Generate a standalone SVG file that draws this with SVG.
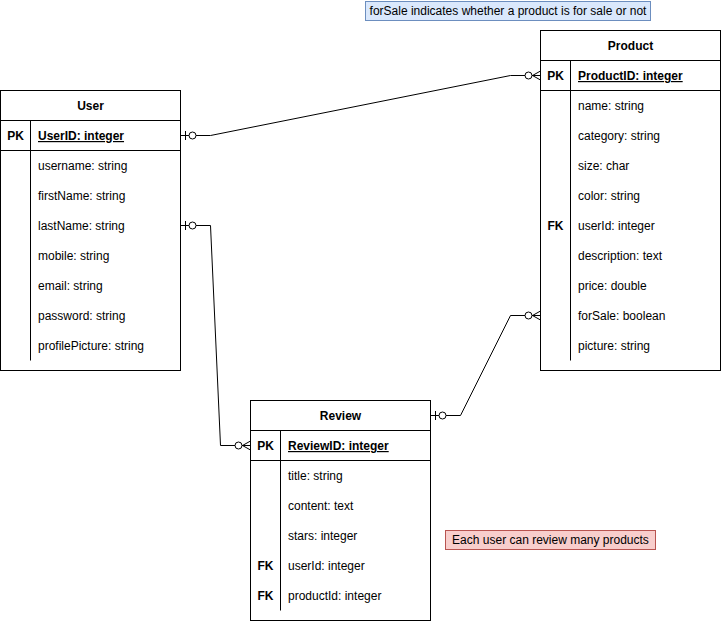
<svg xmlns="http://www.w3.org/2000/svg" width="721" height="622" viewBox="0 0 721 622">
<style>
text{font-family:"Liberation Sans",Arial,Helvetica,sans-serif;font-size:12px;fill:#000}
.box{fill:#fff;stroke:#000;stroke-width:1}
.ln{stroke:#000;stroke-width:1;fill:none}
.t{font-weight:bold;text-anchor:middle}
.k{font-weight:bold;text-anchor:middle}
.pk{font-weight:bold;text-decoration:underline}
.conn{stroke:#000;stroke-width:1;fill:none}
</style>
<defs>
<marker id="zeroOne" markerUnits="userSpaceOnUse" markerWidth="20" markerHeight="12" viewBox="-17 -6 20 12" refX="0" refY="0" orient="auto-start-reverse" overflow="visible">
<line x1="-5" y1="-4.5" x2="-5" y2="4.5" stroke="#000" stroke-width="1"/>
<circle cx="-12" cy="0" r="3.5" fill="#fff" stroke="#000" stroke-width="1"/>
</marker>
<marker id="zeroMany" markerUnits="userSpaceOnUse" markerWidth="20" markerHeight="12" viewBox="-17 -6 20 12" refX="0" refY="0" orient="auto-start-reverse" overflow="visible">
<path d="M-8,0 L0,-4.5 M-8,0 L0,4.5 M-8,0 L0,0" stroke="#000" stroke-width="1" fill="none"/>
<circle cx="-12" cy="0" r="3.5" fill="#fff" stroke="#000" stroke-width="1"/>
</marker>
</defs>

<g id="connectors">
<path class="conn" d="M180.5,135.5 L210.5,135.5 L510.5,75.5 L540.5,75.5" marker-start="url(#zeroOne)" marker-end="url(#zeroMany)"/>
<path class="conn" d="M180.5,225.5 L210.5,225.5 L220.5,445.5 L250.5,445.5" marker-start="url(#zeroOne)" marker-end="url(#zeroMany)"/>
<path class="conn" d="M430.5,415.5 L460.5,415.5 L510.5,315.5 L540.5,315.5" marker-start="url(#zeroOne)" marker-end="url(#zeroMany)"/>
</g>

<g id="user">
<rect class="box" x="0.5" y="90.5" width="180" height="280"/>
<line class="ln" x1="0.5" y1="120.5" x2="180.5" y2="120.5"/>
<line class="ln" x1="0.5" y1="150.5" x2="180.5" y2="150.5"/>
<line class="ln" x1="30.5" y1="120.5" x2="30.5" y2="360.5"/>
<text class="t" x="90.5" y="110">User</text>
<text class="k" x="15.5" y="140">PK</text>
<text class="pk" x="38" y="140">UserID: integer</text>
<text x="38" y="170">username: string</text>
<text x="38" y="200">firstName: string</text>
<text x="38" y="230">lastName: string</text>
<text x="38" y="260">mobile: string</text>
<text x="38" y="290">email: string</text>
<text x="38" y="320">password: string</text>
<text x="38" y="350">profilePicture: string</text>
</g>

<g id="product">
<rect class="box" x="540.5" y="30.5" width="180" height="340"/>
<line class="ln" x1="540.5" y1="60.5" x2="720.5" y2="60.5"/>
<line class="ln" x1="540.5" y1="90.5" x2="720.5" y2="90.5"/>
<line class="ln" x1="570.5" y1="60.5" x2="570.5" y2="360.5"/>
<text class="t" x="630.5" y="50">Product</text>
<text class="k" x="555.5" y="80">PK</text>
<text class="pk" x="578" y="80">ProductID: integer</text>
<text x="578" y="110">name: string</text>
<text x="578" y="140">category: string</text>
<text x="578" y="170">size: char</text>
<text x="578" y="200">color: string</text>
<text class="k" x="555.5" y="230">FK</text>
<text x="578" y="230">userId: integer</text>
<text x="578" y="260">description: text</text>
<text x="578" y="290">price: double</text>
<text x="578" y="320">forSale: boolean</text>
<text x="578" y="350">picture: string</text>
</g>

<g id="review">
<rect class="box" x="250.5" y="400.5" width="180" height="220"/>
<line class="ln" x1="250.5" y1="430.5" x2="430.5" y2="430.5"/>
<line class="ln" x1="250.5" y1="460.5" x2="430.5" y2="460.5"/>
<line class="ln" x1="280.5" y1="430.5" x2="280.5" y2="610.5"/>
<text class="t" x="340.5" y="420">Review</text>
<text class="k" x="265.5" y="450">PK</text>
<text class="pk" x="288" y="450">ReviewID: integer</text>
<text x="288" y="480">title: string</text>
<text x="288" y="510">content: text</text>
<text x="288" y="540">stars: integer</text>
<text class="k" x="265.5" y="570">FK</text>
<text x="288" y="570">userId: integer</text>
<text class="k" x="265.5" y="600">FK</text>
<text x="288" y="600">productId: integer</text>
</g>

<g id="note-forsale">
<rect x="365.5" y="1.5" width="285" height="19" fill="#dae8fc" stroke="#6c8ebf"/>
<text x="508" y="15" text-anchor="middle">forSale indicates whether a product is for sale or not</text>
</g>

<g id="note-review">
<rect x="445.5" y="530.5" width="210" height="19" fill="#f8cecc" stroke="#b85450"/>
<text x="550.5" y="544" text-anchor="middle">Each user can review many products</text>
</g>
</svg>
